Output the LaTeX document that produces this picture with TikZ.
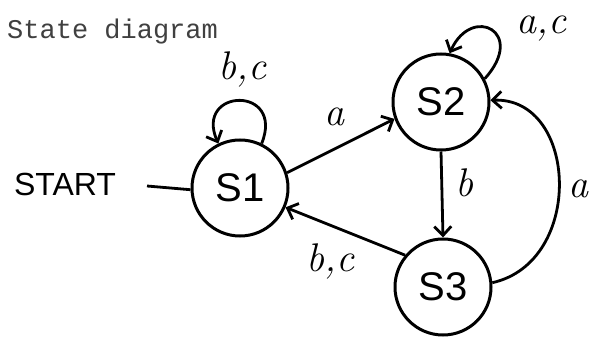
\documentclass[tikz,border=0pt]{standalone}
\usepackage{fontspec}
\newfontfamily\handsans{Liberation Sans}
\newfontfamily\monofam{Liberation Mono}
\usetikzlibrary{arrows.meta}
\begin{document}
\begin{tikzpicture}[x=1pt,y=1pt,
  state/.style={circle,draw,line width=3pt,minimum size=96pt,inner sep=0pt,
    font=\handsans\fontsize{40}{42}\selectfont},
  conn/.style={line width=2.8pt,-{Straight Barb[length=9pt,width=17pt]}},
  plain/.style={line width=2.8pt},
  lbl/.style={font=\itshape\fontsize{40}{42}\selectfont,inner sep=0pt}]
\useasboundingbox (0,0) rectangle (591,337);
\fill[white] (0,0) rectangle (591,337);
\node[anchor=base west,font=\monofam\fontsize{27}{29}\selectfont,text=black!75,inner sep=0pt] (title) at (7,298) {State diagram};
\node[state] (s1) at (240,149) {S1};
\node[state] (s2) at (441,235) {S2};
\node[state] (s3) at (443,50) {S3};
\node[font=\handsans\fontsize{32}{34}\selectfont,inner sep=0pt] (start) at (65,153) {START};
\coordinate (st) at (147,151);
\draw[plain] (st) -- (s1.182);
% self loop S1
\draw[conn] (s1.64) .. controls (285,252) and (194,249) .. (s1.116);
\node[lbl] (l1) at (242,268) {b,c};
% S1 -> S2
\draw[conn] (s1.18) -- (s2.200);
\node[lbl] (l2) at (334,220) {a};
% self loop S2
\draw[conn] (s2.28) .. controls (527,305) and (472,333) .. (s2.80);
\node[lbl] (l3) at (541,308) {a,c};
% S2 -> S3
\draw[conn] (s2.south) -- (s3.north);
\node[lbl] (l4) at (464,154) {b};
% S3 -> S2
\draw[conn] (s3.5) .. controls (585,75) and (578,240) .. (s2.2);
\node[lbl] (l5) at (578,148) {a};
% S3 -> S1
\draw[conn] (s3.140) -- (s1.337);
\node[lbl] (l6) at (330,76) {b,c};
\end{tikzpicture}
\end{document}
